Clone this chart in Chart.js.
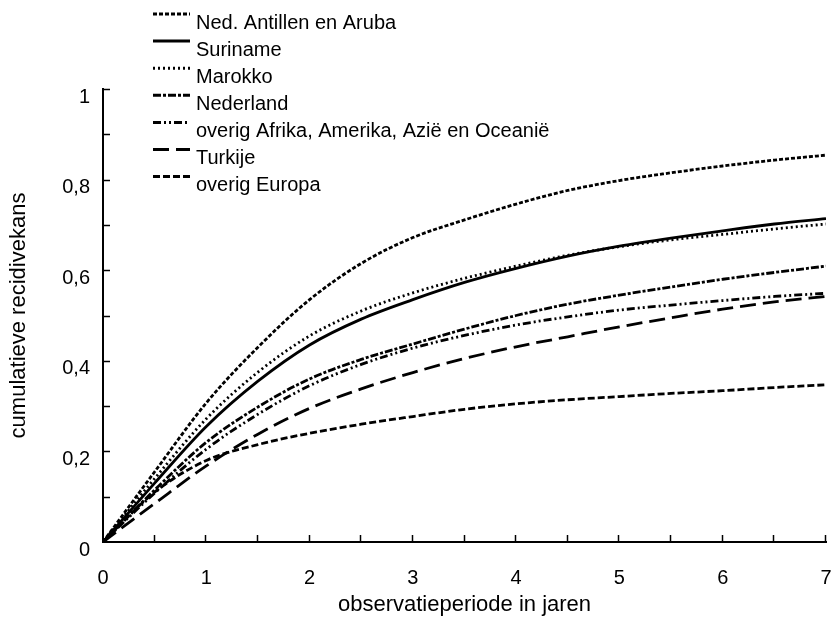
<!DOCTYPE html>
<html><head><meta charset="utf-8">
<script src="https://cdn.jsdelivr.net/npm/chart.js@4.4.1/dist/chart.umd.min.js"></script>
<style>html,body{margin:0;padding:0;background:#fff}</style>
</head><body>
<canvas id="c" width="831" height="618" style="width:831px;height:618px;display:block"></canvas>
<script>
// observation period (years)
const years = [0, 0.5, 1, 1.5, 2, 2.5, 3, 3.5, 4, 4.5, 5, 5.5, 6, 6.5, 7];
// cumulative recidivism probability per group
const nedAntillen  = [0, 0.155, 0.307, 0.43, 0.535, 0.615, 0.672, 0.711, 0.746, 0.776, 0.798, 0.815, 0.830, 0.843, 0.854];
const suriname     = [0, 0.13, 0.255, 0.355, 0.435, 0.492, 0.535, 0.573, 0.604, 0.631, 0.653, 0.671, 0.687, 0.702, 0.714];
const marokko      = [0, 0.14, 0.272, 0.375, 0.455, 0.51, 0.55, 0.582, 0.609, 0.633, 0.652, 0.667, 0.679, 0.691, 0.702];
const nederland    = [0, 0.115, 0.22, 0.298, 0.36, 0.403, 0.437, 0.470, 0.500, 0.525, 0.545, 0.563, 0.580, 0.595, 0.609];
const overigAfrika = [0, 0.108, 0.205, 0.282, 0.345, 0.392, 0.428, 0.456, 0.479, 0.497, 0.512, 0.523, 0.533, 0.542, 0.549];
const turkije      = [0, 0.085, 0.168, 0.238, 0.295, 0.338, 0.374, 0.405, 0.431, 0.453, 0.475, 0.495, 0.514, 0.530, 0.542];
const overigEuropa = [0, 0.11, 0.18, 0.215, 0.24, 0.26, 0.277, 0.293, 0.305, 0.314, 0.321, 0.328, 0.334, 0.341, 0.347];

const seriesLabels = ['Ned. Antillen en Aruba', 'Suriname', 'Marokko', 'Nederland',
  'overig Afrika, Amerika, Azië en Oceanië', 'Turkije', 'overig Europa'];
const xTickLabels = ['0', '1', '2', '3', '4', '5', '6', '7'];
const yTickLabels = ['0', '0,2', '0,4', '0,6', '0,8', '1'];
const xTitle = 'observatieperiode in jaren';
const yTitle = 'cumulatieve recidivekans';

const FONT = '"Liberation Sans", Arial, Helvetica, sans-serif';
const seriesValues = [nedAntillen, suriname, marokko, nederland, overigAfrika, turkije, overigEuropa];
const dashes = [[4, 2], [], [2, 3], [8, 2, 3, 2], [8, 3, 2, 3, 2, 3], [16, 7], [7, 3]];

const datasets = seriesValues.map((vals, i) => ({
  label: seriesLabels[i],
  data: years.map((t, j) => ({x: t, y: vals[j]})),
  borderColor: '#000',
  borderWidth: 2.8,
  borderDash: dashes[i],
  pointRadius: 0,
  fill: false,
  cubicInterpolationMode: 'monotone'
}));

const innerTicks = {
  id: 'innerTicks',
  afterDatasetsDraw(chart) {
    const {ctx, scales: {x, y}} = chart;
    ctx.save();
    ctx.strokeStyle = '#000';
    ctx.lineWidth = 1.5;
    ctx.setLineDash([]);
    const x0 = x.getPixelForValue(0), y0 = y.getPixelForValue(0);
    for (let k = 1; k <= 10; k++) {
      const py = Math.round(y.getPixelForValue(k / 10)) + 0.5;
      ctx.beginPath(); ctx.moveTo(x0, py); ctx.lineTo(x0 + 7, py); ctx.stroke();
    }
    for (let k = 1; k <= 14; k++) {
      const px = Math.round(x.getPixelForValue(k / 2)) - 0.5;
      ctx.beginPath(); ctx.moveTo(px, y0); ctx.lineTo(px, y0 - 7); ctx.stroke();
    }
    ctx.restore();
  }
};

const customLegend = {
  id: 'customLegend',
  afterDraw(chart) {
    const ctx = chart.ctx;
    ctx.save();
    ctx.font = '20px ' + FONT;
    ctx.fillStyle = '#000';
    ctx.textBaseline = 'middle';
    ctx.textAlign = 'left';
    chart.data.datasets.forEach((ds, i) => {
      const ty = 23 + i * 27.1;
      const ly = ty - 9;
      ctx.strokeStyle = '#000';
      ctx.lineWidth = 3;
      ctx.setLineDash(ds.borderDash);
      ctx.beginPath(); ctx.moveTo(153, ly); ctx.lineTo(190, ly); ctx.stroke();
      ctx.setLineDash([]);
      ctx.fillText(ds.label, 196, ty);
    });
    ctx.restore();
  }
};

new Chart(document.getElementById('c'), {
  type: 'line',
  data: {datasets},
  plugins: [innerTicks, customLegend],
  options: {
    responsive: false,
    animation: false,
    devicePixelRatio: 1,
    layout: {padding: {top: 89, right: 5, left: 0, bottom: 0}},
    plugins: {legend: {display: false}, tooltip: {enabled: false}},
    scales: {
      x: {
        type: 'linear', min: 0, max: 7,
        grid: {display: false, drawTicks: false},
        border: {display: true, color: '#000', width: 2},
        ticks: {stepSize: 1, padding: 24, color: '#000', font: {family: FONT, size: 20},
          maxRotation: 0, callback: v => xTickLabels[Math.round(v)]},
        title: {display: true, text: xTitle, color: '#000', font: {family: FONT, size: 22},
          padding: {top: 0, bottom: 0}},
        afterFit: s => { s.height = 76; s.paddingLeft = 0; s.paddingRight = 0; }
      },
      y: {
        type: 'linear', min: 0, max: 1,
        grid: {display: false, drawTicks: false},
        border: {display: true, color: '#000', width: 2},
        ticks: {stepSize: 0.2, padding: 13, labelOffset: 8, color: '#000',
          font: {family: FONT, size: 20}, callback: v => yTickLabels[Math.round(v / 0.2)]},
        title: {display: true, text: yTitle, color: '#000', font: {family: FONT, size: 22},
          padding: {top: 6, bottom: 0}},
        afterFit: s => { s.width = 103; s.paddingTop = 0; s.paddingBottom = 0; }
      }
    }
  }
});
</script>
</body></html>
